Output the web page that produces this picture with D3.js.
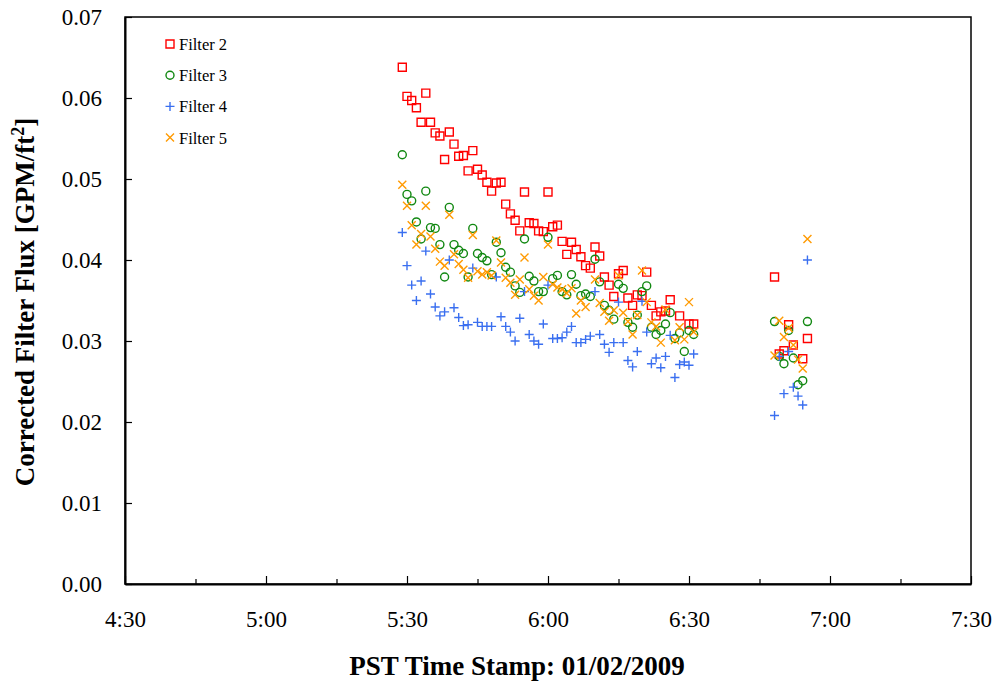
<!DOCTYPE html>
<html>
<head>
<meta charset="utf-8">
<script src="https://cdn.jsdelivr.net/npm/d3@7"></script>
<style>
  body { margin: 0; background: #fff; }
  svg text { font-family: "Liberation Serif", "Times New Roman", serif; fill: #000; }
</style>
</head>
<body>
<svg width="998" height="686"></svg>
<script>
// time = minutes after midnight (PST), flux in GPM/ft2
var filter2 = [[329,.0638],[330,.0602],[331,.0597],[332,.0588],[333,.0570],[334,.0606],[335,.0570],[336,.0557],[337,.0553],[338,.0524],[339,.0558],[340,.0543],[341,.0528],[342,.0529],[343,.0510],[344,.0535],[345,.0512],[346,.0505],[347,.0496],[348,.0485],[349,.0495],[350,.0496],[351,.0469],[352,.0457],[353,.0449],[354,.0436],[355,.0484],[356,.0446],[357,.0445],[358,.0436],[359,.0435],[360,.0484],[361,.0441],[362,.0443],[363,.0423],[364,.0407],[365,.0422],[366,.0413],[367,.0404],[368,.0393],[369,.0390],[370,.0416],[371,.0405],[372,.0379],[373,.0369],[374,.0355],[375,.0383],[376,.0387],[377,.0353],[378,.0344],[379,.0357],[380,.0356],[381,.0385],[382,.0344],[383,.0331],[384,.0336],[385,.0337],[386,.0351],[388,.0331],[390,.0321],[391,.0321],
  [408.2,.0379],[409.2,.0284],[410.2,.0288],[411.2,.0320],[412.2,.0295],[414.2,.0278],[415.2,.0303]];

var filter3 = [[329,.0530],[330,.0481],[331,.0473],[332,.0447],[333,.0426],[334,.0485],[335,.0440],[336,.0439],[337,.0419],[338,.0379],[339,.0465],[340,.0419],[341,.0412],[342,.0408],[343,.0379],[344,.0439],[345,.0408],[346,.0403],[347,.0399],[348,.0382],[349,.0422],[350,.0409],[351,.0391],[352,.0385],[353,.0368],[354,.0360],[355,.0426],[356,.0380],[357,.0374],[358,.0361],[359,.0361],[360,.0428],[361,.0377],[362,.0381],[363,.0361],[364,.0357],[365,.0382],[366,.0370],[367,.0356],[368,.0358],[369,.0355],[370,.0401],[371,.0373],[372,.0344],[373,.0338],[374,.0327],[375,.0370],[376,.0365],[377,.0323],[378,.0317],[379,.0332],[380,.0361],[381,.0368],[382,.0317],[383,.0308],[384,.0313],[385,.0321],[386,.0335],[387,.0303],[388,.0310],[389,.0287],[390,.0313],[391,.0308],
  [408.2,.0324],[409.2,.0281],[410.2,.0272],[411.2,.0313],[412.2,.0279],[413.2,.0246],[414.2,.0251],[415.2,.0324]];

var filter4 = [[329,.0434],[330,.0393],[331,.0369],[332,.0350],[333,.0374],[334,.0411],[335,.0358],[336,.0342],[337,.0331],[338,.0336],[339,.0400],[340,.0341],[341,.0329],[342,.0319],[343,.0320],[344,.0390],[345,.0323],[346,.0318],[347,.0318],[348,.0318],[349,.0379],[350,.0330],[351,.0318],[352,.0311],[353,.0300],[354,.0328],[355,.0361],[356,.0308],[357,.0300],[358,.0296],[359,.0321],[360,.0369],[361,.0303],[362,.0303],[363,.0304],[364,.0311],[365,.0318],[366,.0298],[367,.0298],[368,.0302],[369,.0306],[370,.0361],[371,.0308],[372,.0296],[373,.0286],[374,.0298],[375,.0348],[376,.0298],[377,.0276],[378,.0268],[379,.0287],[380,.0349],[381,.0311],[382,.0272],[383,.0279],[384,.0267],[385,.0281],[386,.0307],[387,.0255],[388,.0271],[389,.0274],[390,.0270],[391,.0284],
  [408.2,.0208],[409.2,.0281],[410.2,.0235],[411.2,.0287],[412.2,.0243],[413.2,.0232],[414.2,.0221],[415.2,.0400]];

var filter5 = [[329,.0493],[330,.0467],[331,.0443],[332,.0419],[333,.0432],[334,.0467],[335,.0429],[336,.0414],[337,.0398],[338,.0393],[339,.0456],[340,.0407],[341,.0395],[342,.0388],[343,.0378],[344,.0431],[345,.0386],[346,.0382],[347,.0385],[348,.0381],[349,.0424],[350,.0397],[351,.0378],[352,.0372],[353,.0357],[354,.0376],[355,.0403],[356,.0364],[357,.0356],[358,.0350],[359,.0379],[360,.0419],[361,.0370],[362,.0366],[363,.0364],[364,.0359],[365,.0365],[366,.0334],[367,.0350],[368,.0342],[370,.0376],[371,.0347],[372,.0336],[373,.0325],[374,.0338],[375,.0381],[376,.0335],[377,.0324],[378,.0308],[379,.0332],[380,.0387],[381,.0348],[382,.0323],[383,.0318],[384,.0298],[385,.0339],[387,.0301],[388,.0317],[389,.0302],[390,.0348],[391,.0311],
  [408.2,.0282],[409.2,.0325],[410.2,.0305],[411.2,.0316],[412.2,.0295],[413.2,.0277],[414.2,.0266],[415.2,.0426]];

var seriesNames = ["Filter 2", "Filter 3", "Filter 4", "Filter 5"];
var xTicks = [270, 300, 330, 360, 390, 420, 450];
var xMinor = [285, 315, 345, 375, 405, 435];
var yTicks = [0, 0.01, 0.02, 0.03, 0.04, 0.05, 0.06, 0.07];

var svg = d3.select("svg");
var plotL = 125, plotR = 971, plotT = 17, plotB = 584;

var x = d3.scaleLinear().domain([270, 450]).range([plotL, plotR]);
var y = d3.scaleLinear().domain([0, 0.07]).range([plotB, plotT]);

// marker shapes
var shapes = {
  square: "M-4,-4H4V4H-4Z",
  circle: d3.symbol().type(d3.symbolCircle).size(Math.PI * 16)(),
  plus: "M-4.5,0H4.5M0,-4.5V4.5",
  cross: "M-4,-4L4,4M-4,4L4,-4"
};
var series = [
  {name: seriesNames[0], data: filter2, shape: "square", color: "#ff0000"},
  {name: seriesNames[1], data: filter3, shape: "circle", color: "#118811"},
  {name: seriesNames[2], data: filter4, shape: "plus", color: "#3a6ff0"},
  {name: seriesNames[3], data: filter5, shape: "cross", color: "#ff9a00"}
];

// frame
svg.append("rect")
  .attr("x", plotL).attr("y", plotT)
  .attr("width", plotR - plotL).attr("height", plotB - plotT)
  .attr("fill", "none").attr("stroke", "#000").attr("stroke-width", 1.5);

// axes, ticks pointing in
var fmt = function (m) { return Math.floor(m / 60) + ":" + d3.format("02")(m % 60); };

var xAxis = svg.append("g")
  .attr("transform", "translate(0," + plotB + ")")
  .call(d3.axisBottom(x).tickValues(xTicks).tickFormat(fmt).tickSizeInner(-8).tickSizeOuter(0).tickPadding(27));
xAxis.selectAll(".tick text").attr("font-size", "23px").attr("font-family", "Liberation Serif");

svg.append("g")
  .attr("transform", "translate(0," + plotB + ")")
  .call(d3.axisBottom(x).tickValues(xMinor).tickFormat("").tickSizeInner(-5).tickSizeOuter(0))
  .select(".domain").remove();

var yAxis = svg.append("g")
  .attr("transform", "translate(" + plotL + ",0)")
  .call(d3.axisLeft(y).tickValues(yTicks).tickFormat(d3.format(".2f")).tickSizeInner(-7).tickSizeOuter(0).tickPadding(23));
yAxis.selectAll(".tick text").attr("font-size", "23px").attr("font-family", "Liberation Serif");

svg.selectAll(".domain").attr("stroke-width", 2);
svg.selectAll(".tick line").attr("stroke-width", 1.2);

// points
series.forEach(function (s) {
  svg.append("g").selectAll("path")
    .data(s.data)
    .enter()
    .append("path")
    .attr("d", shapes[s.shape])
    .attr("transform", function (d) { return "translate(" + x(d[0]) + "," + y(d[1]) + ")"; })
    .attr("fill", "none")
    .attr("stroke", s.color)
    .attr("stroke-width", 1.4);
});

// legend
var leg = svg.append("g").attr("transform", "translate(170,44)");
var row = leg.selectAll("g").data(series).enter().append("g")
  .attr("transform", function (d, i) { return "translate(0," + i * 31.2 + ")"; });
row.append("path")
  .attr("d", function (d) { return shapes[d.shape]; })
  .attr("fill", "none")
  .attr("stroke", function (d) { return d.color; })
  .attr("stroke-width", 1.4);
row.append("text")
  .attr("x", 9).attr("y", 6)
  .attr("font-size", "16.5px")
  .text(function (d) { return d.name; });

// titles
svg.append("text")
  .attr("x", 517).attr("y", 675)
  .attr("text-anchor", "middle")
  .attr("font-size", "27px").attr("font-weight", "bold")
  .text("PST Time Stamp: 01/02/2009");

var yt = svg.append("text")
  .attr("transform", "translate(34,302) rotate(-90)")
  .attr("text-anchor", "middle")
  .attr("font-size", "27px").attr("font-weight", "bold");
yt.append("tspan").text("Corrected Filter Flux [GPM/ft");
yt.append("tspan").attr("dy", -10).attr("font-size", "18px").text("2");
yt.append("tspan").attr("dy", 10).text("]");
</script>
</body>
</html>
